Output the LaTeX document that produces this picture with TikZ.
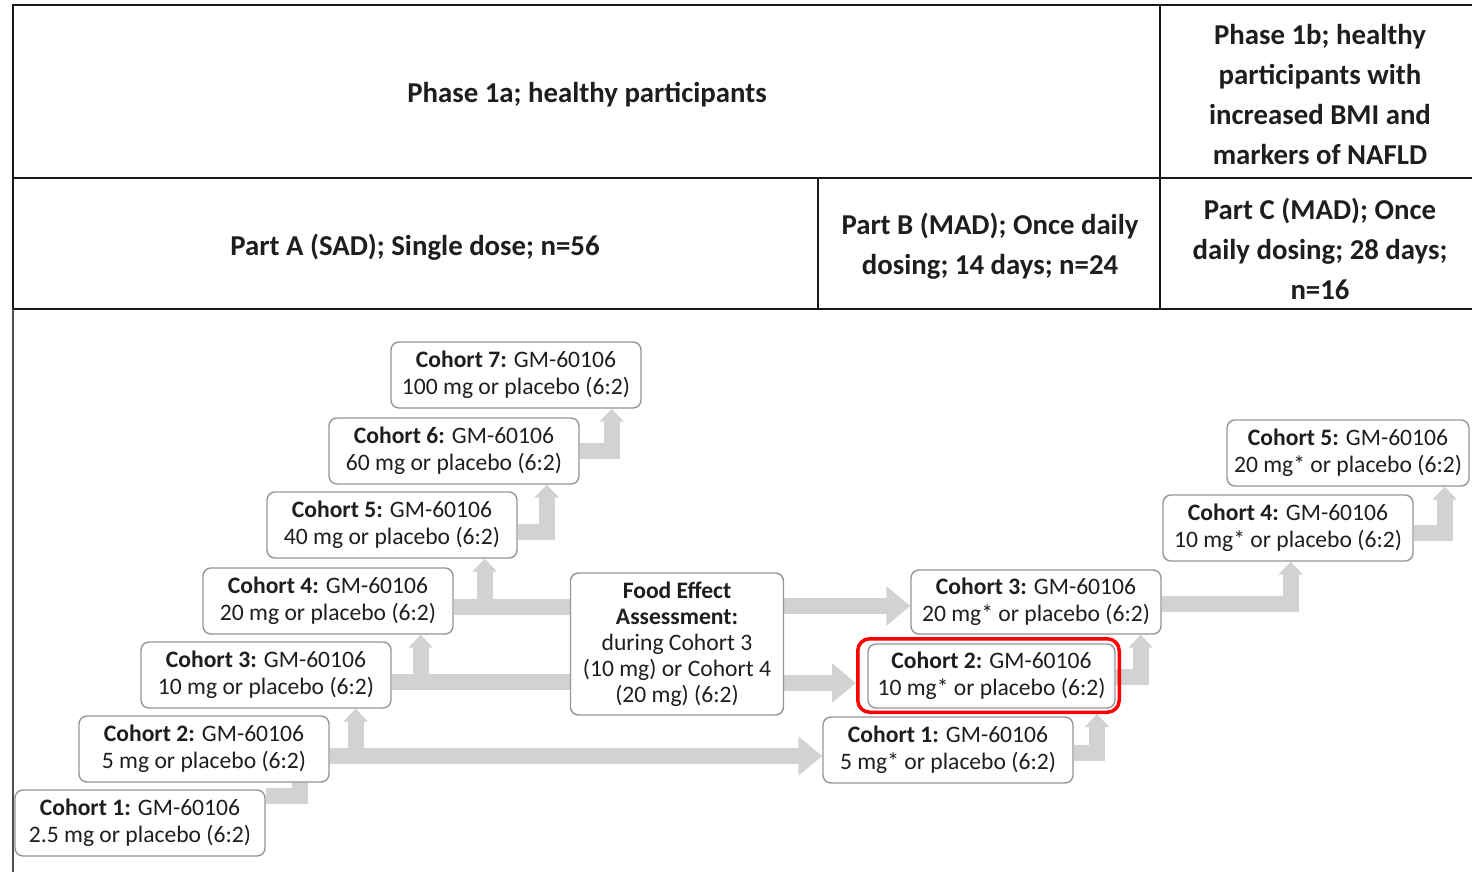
\documentclass[tikz,border=0pt]{standalone}
\usepackage{fontspec}
\setmainfont{Carlito}
\usetikzlibrary{arrows.meta,calc}
\pgfdeclarelayer{bg}
\pgfsetlayers{bg,main}
\definecolor{bandgray}{RGB}{210,210,210}
\definecolor{boxline}{RGB}{150,150,150}
\definecolor{txt}{RGB}{30,30,30}
\tikzset{
  cohort/.style={draw=boxline, line width=0.7pt, rounded corners=4pt, fill=white,
    minimum width=125pt, minimum height=33pt, align=center, inner sep=1pt,
    font=\fontsize{11.8}{13.5}\selectfont, text=txt},
  hdr/.style={font=\fontsize{14.4}{20}\selectfont\bfseries, align=center, text=txt},
  tbl/.style={draw=black!90, line width=1.2pt, line cap=rect},
  band/.style={draw=bandgray, line width=8pt, line join=miter},
  uptip/.style={-{Triangle[width=12pt,length=6.5pt]}},
  bigtip/.style={-{Triangle[width=19pt,length=12pt]}},
  hilite/.style={draw=red, line width=1.75pt, rounded corners=6pt, inner sep=0pt}
}
\begin{document}
\begin{tikzpicture}[x=0.5pt,y=-0.5pt]
\useasboundingbox (0,0) rectangle (1472,872);
% table
\draw[tbl] (13,5) -- (1472,5);
\draw[tbl] (13,178) -- (1472,178);
\draw[tbl] (13,309) -- (1472,309);
\draw[tbl] (13,5) -- (13,309);
\draw[tbl] (1160,5) -- (1160,309);
\draw[tbl] (818,178) -- (818,309);
\draw[black!70, line width=0.8pt] (13,309) -- (13,872);
\node[hdr] (p1a) at (587,95) {Phase 1a; healthy participants};
\node[hdr] (p1b) at (1320,95) {Phase 1b; healthy\\participants with\\increased BMI and\\markers of NAFLD};
\node[hdr] (pa) at (415,247) {Part A (SAD); Single dose; n=56};
\node[hdr] (pb) at (990,246) {Part B (MAD); Once daily\\dosing; 14 days; n=24};
\node[hdr] (pc) at (1320,249) {Part C (MAD); Once\\daily dosing; 28 days;\\n=16};
% Part A cohorts
\node[cohort] (a7) at (516,375) {\textbf{Cohort 7:} GM-60106\\100 mg or placebo (6:2)};
\node[cohort] (a6) at (454,451) {\textbf{Cohort 6:} GM-60106\\60 mg or placebo (6:2)};
\node[cohort] (a5) at (392,525) {\textbf{Cohort 5:} GM-60106\\40 mg or placebo (6:2)};
\node[cohort] (a4) at (328,601) {\textbf{Cohort 4:} GM-60106\\20 mg or placebo (6:2)};
\node[cohort] (a3) at (266,675) {\textbf{Cohort 3:} GM-60106\\10 mg or placebo (6:2)};
\node[cohort] (a2) at (204,749) {\textbf{Cohort 2:} GM-60106\\5 mg or placebo (6:2)};
\node[cohort] (a1) at (140,823) {\textbf{Cohort 1:} GM-60106\\2.5 mg or placebo (6:2)};
% Food effect
\node[cohort, minimum width=106.5pt, minimum height=71pt, font=\fontsize{11.8}{13}\selectfont] (fe) at (677,644)
  {\textbf{Food Effect}\\\textbf{Assessment:}\\during Cohort 3\\(10 mg) or Cohort 4\\(20 mg) (6:2)};
% Part B
\node[cohort] (b1) at (948,750) {\textbf{Cohort 1:} GM-60106\\5 mg* or placebo (6:2)};
\node[cohort, minimum width=123.5pt, minimum height=32pt] (b2) at (991.5,676) {\textbf{Cohort 2:} GM-60106\\10 mg* or placebo (6:2)};
\node[hilite, minimum width=130.75pt, minimum height=36.75pt] (hl) at (988.5,675.5) {};
\node[cohort, minimum height=32pt] (b3) at (1036,602) {\textbf{Cohort 3:} GM-60106\\20 mg* or placebo (6:2)};
% Part C
\node[cohort] (c4) at (1288,528) {\textbf{Cohort 4:} GM-60106\\10 mg* or placebo (6:2)};
\node[cohort, minimum width=121pt] (c5) at (1348,453) {\textbf{Cohort 5:} GM-60106\\20 mg* or placebo (6:2)};
% connectors
\begin{pgfonlayer}{bg}
\draw[band] ($(a1.north east)+(0,7)$) -| ($(a2.south east)+(-30,-4)$);
\draw[band,uptip] ($(a2.east)+(0,7)$) -| ($(a3.south east)+(-36,0)$);
\draw[band,bigtip] ($(a2.east)+(0,7)$) coordinate (s2) -- (s2 -| b1.west);
\draw[band,uptip] ($(a3.east)+(0,7)$) coordinate (s3) -| ($(a4.south east)+(-33,0)$);
\draw[band] (s3) -- (s3 -| fe.west);
\draw[band,uptip] ($(a4.east)+(0,6)$) coordinate (s4) -| ($(a5.south east)+(-33,0)$);
\draw[band] (s4) -- (s4 -| fe.west);
\draw[band,uptip] ($(a5.east)+(0,7)$) -| ($(a6.south east)+(-33,0)$);
\draw[band,uptip] (a6.east) -| ($(a7.south east)+(-30,0)$);
\draw[band,bigtip] ($(fe.east)+(0,-38)$) coordinate (f1) -- (f1 -| b3.west);
\draw[band,bigtip] ($(fe.east)+(0,39)$) coordinate (f2) -- (f2 -| hl.west);
\draw[band,uptip] ($(b1.east)+(0,3)$) -| ($(hl.south east)+(-24,0)$);
\draw[band,uptip] ($(b2.east)+(0,1)$) -| ($(b3.south east)+(-21,0)$);
\draw[band,uptip] ($(b3.east)+(0,2)$) -| ($(c4.south east)+(-123,0)$);
\draw[band,uptip] ($(c4.east)+(0,5)$) -| ($(c5.south east)+(-25,0)$);
\end{pgfonlayer}
\end{tikzpicture}
\end{document}
